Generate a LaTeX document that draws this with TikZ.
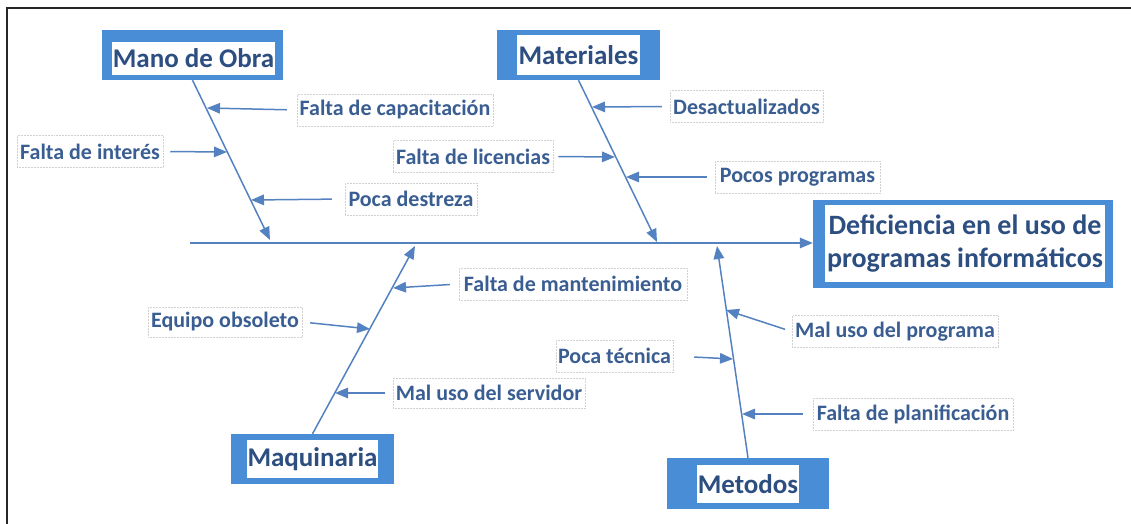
\documentclass[tikz,border=0pt]{standalone}
\usepackage{fontspec}
\setmainfont{Carlito}
\usetikzlibrary{arrows.meta}
\definecolor{boxblue}{RGB}{72,141,214}
\definecolor{lineblue}{RGB}{84,130,192}
\definecolor{txtblue}{RGB}{58,94,146}
\definecolor{cattxt}{RGB}{44,78,128}
\begin{document}
\begin{tikzpicture}[x=1pt,y=-1pt,
  catbox/.style={fill=boxblue, draw=none, inner sep=0pt},
  cattext/.style={fill=white, draw=none, inner sep=0pt, text=cattxt, font=\bfseries\fontsize{27}{30}\selectfont, align=center},
  lbl/.style={draw=black!18, densely dotted, line width=0.5pt, fill=white, text=txtblue, inner sep=0pt, minimum height=32pt, font=\bfseries\fontsize{22}{24}\selectfont},
  arr/.style={draw=lineblue, line width=1.5pt, -{Triangle[length=13pt,width=10.5pt]}}]
\useasboundingbox (0,0) rectangle (1131,524);
\draw[line width=2pt, black!85] (7,524) -- (7,8) -- (1131,8);

% category boxes
\node[catbox, minimum width=181pt, minimum height=50pt] (mo) at (192.5,55) {};
\node[cattext, minimum width=163pt, minimum height=33pt] (motxt) at (193.5,58.5) {Mano de Obra};
\node[catbox, minimum width=163pt, minimum height=50pt] (ma) at (578.5,55) {};
\node[cattext, minimum width=123pt, minimum height=40pt] (matxt) at (578.5,55) {Materiales};
\node[catbox, minimum width=163pt, minimum height=50pt] (mq) at (312.5,459) {};
\node[cattext, minimum width=131pt, minimum height=38pt] (mqtxt) at (312.5,459) {Maquinaria};
\node[catbox, minimum width=162pt, minimum height=51pt] (me) at (748,483.5) {};
\node[cattext, minimum width=102pt, minimum height=38pt] (metxt) at (748,484) {Metodos};
\node[catbox, minimum width=300pt, minimum height=88pt] (ef) at (963,244) {};
\node[cattext, minimum width=280pt, minimum height=77pt, font=\bfseries\fontsize{28}{33}\selectfont] (eftxt) at (965,243.5) {Deficiencia en el uso de\\programas informáticos};

% spine and branches
\coordinate (s0) at (190,243);
\draw[arr] (s0) -- (ef.west |- s0);
\coordinate (tmo) at (270,240);
\coordinate (tma) at (657,242);
\coordinate (tmq) at (415,246);
\coordinate (tme) at (717,246);
\draw[arr] (mo.south) -- (tmo);
\draw[arr] (ma.south) -- (tma);
\draw[arr] (mq.north) -- (tmq);
\draw[arr] (me.north) -- (tme);

% labels
\node[lbl, minimum width=196pt] (l1) at (395,110) {Falta de capacitación};
\node[lbl, minimum width=146pt] (l2) at (90,151.5) {Falta de interés};
\node[lbl, minimum width=132pt] (l3) at (411,199) {Poca destreza};
\node[lbl, minimum width=153pt] (l4) at (746.5,106.5) {Desactualizados};
\node[lbl, minimum width=160pt] (l5) at (473,156.5) {Falta de licencias};
\node[lbl, minimum width=165pt] (l6) at (797.5,177) {Pocos programas};
\node[lbl, minimum width=228pt] (l7) at (573,284) {Falta de mantenimiento};
\node[lbl, minimum width=154pt, minimum height=30pt] (l8) at (225,322) {Equipo obsoleto};
\node[lbl, minimum width=192pt, minimum height=30pt] (l9) at (489,393) {Mal uso del servidor};
\node[lbl, minimum width=206pt] (l10) at (895,331.5) {Mal uso del programa};
\node[lbl, minimum width=117pt] (l11) at (614.5,356) {Poca técnica};
\node[lbl, minimum width=200pt] (l12) at (913,414) {Falta de planificación};

% tips on branches
\coordinate (a1) at (207,108);
\coordinate (a2) at (227,152);
\coordinate (a3) at (251,200);
\coordinate (a4) at (592,107);
\coordinate (a5) at (615,157);
\coordinate (a6) at (626,177);
\coordinate (a7) at (393,288);
\coordinate (a8) at (370,329);
\coordinate (a9) at (335,393);
\coordinate (a10) at (726,310);
\coordinate (a11) at (733,359);
\coordinate (a12) at (742,414);

\draw[arr, shorten <=10pt] (l1.west) -- (a1);
\draw[arr, shorten <=7pt] (l2.east) -- (a2);
\draw[arr, shorten <=13pt] (l3.west) -- (a3);
\draw[arr, shorten <=8pt] (l4.west) -- (a4);
\draw[arr, shorten <=5pt] (l5.east) -- (a5);
\draw[arr, shorten <=8pt] (l6.west) -- (a6);
\draw[arr, shorten <=9pt] (l7.west) -- (a7);
\draw[arr, shorten <=8pt] (l8.east) -- (a8);
\draw[arr, shorten <=8pt] (l9.west) -- (a9);
\draw[arr, shorten <=7pt] (l10.west) -- (a10);
\draw[arr, shorten <=21pt] (l11.east) -- (a11);
\draw[arr, shorten <=10pt] (l12.west) -- (a12);
\end{tikzpicture}
\end{document}
